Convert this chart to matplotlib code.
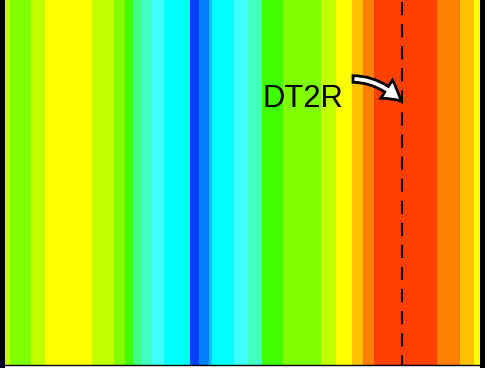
import matplotlib
matplotlib.use("Agg")
import matplotlib.pyplot as plt
from matplotlib.colors import ListedColormap
import numpy as np

plt.rcParams['font.family'] = ['Liberation Sans', 'DejaVu Sans']

# stripe boundaries along x and the level index of each stripe
x_edges = [1.5, 10, 31, 45, 92, 114, 125, 133, 141, 152, 164, 190, 199, 209, 212,
           234, 248, 262, 283, 321, 336, 352, 363, 374, 437, 460, 474, 481.5]
levels = [9, 8, 9, 10, 9, 8, 7, 6, 5, 4, 3, 0, 1, 2, 3,
          4, 5, 7, 8, 9, 10, 11, 12, 13, 12, 11, 10]
level_colors = ['#0040ff', '#0080ff', '#00c0ff', '#00ffff', '#40ffff', '#40ffc0',
                '#40ff80', '#40ff00', '#80ff00', '#c0ff00', '#ffff00', '#ffc000',
                '#ff8000', '#ff4000']
y_edges = [0, 375]

marker_x = 402
marker_y = [363, 0]
label = 'DT2R'
label_pos = (262.5, 258)
arrow_tail = (353, 286)
arrow_tip = (401, 264)

W, H = 488, 370
fig = plt.figure(figsize=(W / 100, H / 100), dpi=100)
ax = fig.add_axes([1.5 / W, 5 / H, 480 / W, 375 / H])

cmap = ListedColormap(level_colors)
C = np.array(levels, dtype=float).reshape(1, -1)
ax.pcolormesh(x_edges, y_edges, C, cmap=cmap, vmin=-0.5, vmax=len(level_colors) - 0.5,
              shading='flat')

ax.plot([marker_x, marker_x], marker_y, color='black', lw=1.5,
        linestyle=(0, (6.3, 4.3)), solid_capstyle='butt', dash_capstyle='butt')

ax.text(label_pos[0], label_pos[1], label, fontsize=22.3, ha='left', va='baseline',
        color='black')
ax.annotate('', xy=arrow_tip, xytext=arrow_tail,
            arrowprops=dict(arrowstyle='simple,head_width=0.72,head_length=0.62,tail_width=0.22',
                            fc='white', ec='black', lw=2.0, shrinkA=0, shrinkB=0,
                            mutation_scale=21.6, joinstyle='miter',
                            connectionstyle='angle3,angleA=0,angleB=135'))

ax.set_xlim(x_edges[0], x_edges[-1])
ax.set_ylim(y_edges[0], y_edges[-1])
ax.set_xticks([])
ax.set_yticks([])
ax.spines['top'].set_visible(False)
ax.spines['left'].set_linewidth(3.6)
ax.spines['right'].set_linewidth(3.6)
ax.spines['bottom'].set_linewidth(1.0)

fig.savefig('out.png', dpi=100)
